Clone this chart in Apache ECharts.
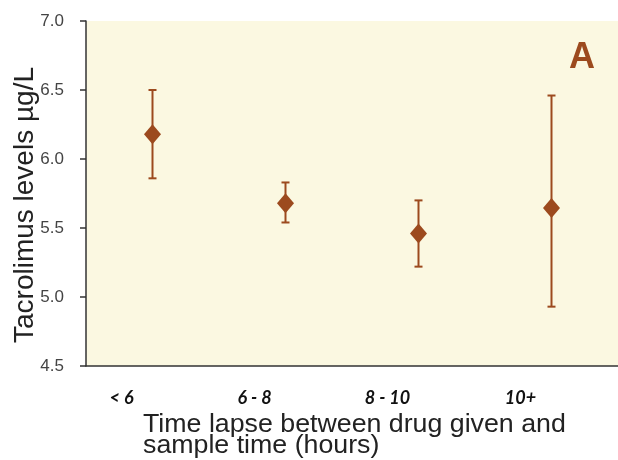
<!DOCTYPE html>
<html>
<head>
<meta charset="utf-8">
<script src="https://cdn.jsdelivr.net/npm/echarts@6/dist/echarts.min.js"></script>
<style>
  html, body { margin: 0; padding: 0; background: #fff; }
  #main { width: 618px; height: 460px; }
</style>
</head>
<body>
<div id="main"></div>
<script>
// data
const categories = ['< 6', '6 - 8', '8 - 10', '10+'];
const means = [6.18, 5.68, 5.46, 5.645];
const upper = [6.50, 5.83, 5.70, 6.46];
const lower = [5.86, 5.54, 5.22, 4.93];

const brown = '#9c4a1e';

const chart = echarts.init(document.getElementById('main'));

const errData = categories.map((c, i) => [i, lower[i], upper[i]]);

function renderError(params, api) {
  const x = api.value(0);
  const lo = api.coord([x, api.value(1)]);
  const hi = api.coord([x, api.value(2)]);
  const cap = 4;
  const style = { stroke: brown, lineWidth: 2 };
  return {
    type: 'group',
    children: [
      { type: 'line', shape: { x1: hi[0], y1: hi[1], x2: lo[0], y2: lo[1] }, style: style },
      { type: 'line', shape: { x1: hi[0] - cap, y1: hi[1], x2: hi[0] + cap, y2: hi[1] }, style: style },
      { type: 'line', shape: { x1: lo[0] - cap, y1: lo[1], x2: lo[0] + cap, y2: lo[1] }, style: style }
    ]
  };
}

chart.setOption({
  animation: false,
  backgroundColor: '#fff',
  grid: {
    left: 86, right: -3, top: 21, bottom: 94,
    show: true, backgroundColor: '#fbf8e1', borderWidth: 0
  },
  graphic: [
    {
      type: 'text', left: 569, top: 40,
      style: { text: 'A', fontFamily: 'Liberation Sans', fontWeight: 'bold', fontSize: 36, fill: brown }
    },
    {
      // x axis title
      type: 'text', x: 143, y: 415, scaleX: 1.07,
      style: {
        text: 'Time lapse between drug given and\nsample time (hours)',
        fontFamily: 'Liberation Sans', fontSize: 25, lineHeight: 21, fill: '#222'
      }
    },
    {
      // y axis title
      type: 'text', x: 25, y: 205, rotation: Math.PI / 2,
      style: {
        text: 'Tacrolimus levels µg/L',
        fontFamily: 'Liberation Sans', fontSize: 28, fill: '#222',
        align: 'center', verticalAlign: 'middle'
      }
    }
  ],
  xAxis: {
    type: 'category',
    data: categories,
    boundaryGap: true,
    axisLine: { show: true, lineStyle: { color: '#333', width: 1.5 } },
    axisTick: { show: false },
    axisLabel: {
      margin: 23,
      color: '#111',
      fontFamily: 'Lato',
      fontStyle: 'italic',
      fontWeight: 'bold',
      fontSize: 18,
      align: 'center',
      padding: [0, 62, 0, 0]
    },
    splitLine: { show: false }
  },
  yAxis: {
    type: 'value',
    min: 4.5, max: 7.0, interval: 0.5,
    axisLine: { show: true, lineStyle: { color: '#333', width: 1.5 } },
    axisTick: { show: true, length: 6, lineStyle: { color: '#333', width: 1.5 } },
    axisLabel: {
      formatter: v => v.toFixed(1),
      fontFamily: 'Liberation Sans', fontSize: 17, color: '#444', margin: 22
    },
    splitLine: { show: false }
  },
  series: [
    {
      type: 'custom',
      renderItem: renderError,
      data: errData,
      encode: { x: 0, y: [1, 2] },
      z: 2
    },
    {
      type: 'scatter',
      data: means,
      symbol: 'diamond',
      symbolSize: [17, 20],
      itemStyle: { color: brown, opacity: 1 },
      z: 3
    }
  ]
});
</script>
</body>
</html>
